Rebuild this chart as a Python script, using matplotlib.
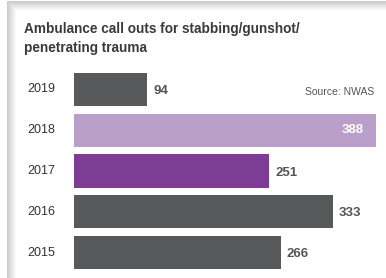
import matplotlib.pyplot as plt
from matplotlib.patches import Rectangle

plt.rcParams['font.family'] = ['Liberation Sans', 'DejaVu Sans']

years = ['2019', '2018', '2017', '2016', '2015']
calls = [94, 388, 251, 333, 266]
colors = ['#58595b', '#bb9fcb', '#7d3d95', '#58595b', '#58595b']
title_lines = ['Ambulance call outs for stabbing/gunshot/', 'penetrating trauma']

W, H = 386, 278
fig = plt.figure(figsize=(W / 100, H / 100), dpi=100)
fig.patch.set_facecolor('white')

# card shadow (left and top), drawn behind the axes
for i in range(9):
    g = 0.80 + i * 0.022
    x0 = 7 + i
    y0 = 1 + i
    fig.patches.append(Rectangle((x0 / W, 0), 1 - x0 / W, 1 - y0 / H,
                                 transform=fig.transFigure, color=(g, g, g), lw=0, zorder=-2))
fig.patches.append(Rectangle((16 / W, 0), 1, 1 - 10 / H, transform=fig.transFigure,
                             color='white', lw=0, zorder=-1))

# axes placed in pixels
left, right = 74, 386
top, bottom = 69, 273
ax = fig.add_axes([left / W, 1 - bottom / H, (right - left) / W, (bottom - top) / H])
ax.patch.set_alpha(0)
scale = 0.778
ax.set_xlim(0, (right - left) / scale)
ypos = list(range(len(years)))
ax.barh(ypos, calls, height=0.81, color=colors)
ax.set_ylim(len(years) - 0.5, -0.5)
ax.axis('off')

for y, v, lab in zip(ypos, calls, years):
    ax.text(-47 / scale, y, lab, ha='left', va='center', fontsize=9, color='#333333')
    if v > 370:
        ax.text(v - 12 / scale, y, str(v), ha='right', va='center', fontsize=9.5,
                fontweight='bold', color='white')
    else:
        ax.text(v + 6 / scale, y + 0.04, str(v), ha='left', va='center', fontsize=9.5,
                fontweight='bold', color='#555555')

for base, line in zip([33, 52], title_lines):
    fig.text(24 / W, 1 - base / H, line, ha='left', va='baseline', fontsize=9.8,
             fontweight='bold', color='#3a3a3a')
fig.text(374 / W, 1 - 92 / H, 'Source: NWAS', ha='right', va='center', fontsize=7.5,
         color='#555555')

fig.savefig('out.png', dpi=100)
